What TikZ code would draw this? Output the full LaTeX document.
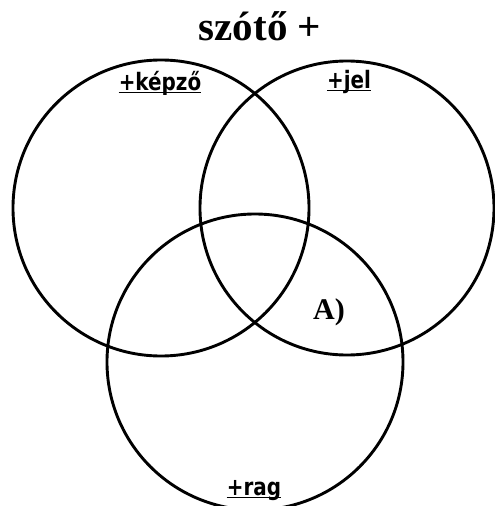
\documentclass[tikz,border=0pt]{standalone}
\usepackage{fontspec}
\setmainfont{Liberation Serif}
\newfontfamily\labelfont[FakeStretch=0.83]{DejaVu Sans}
\usepackage{tikz}
\usetikzlibrary{positioning,calc}
\tikzset{
  venn/.style={draw=black,circle,line width=2.9pt,inner sep=0pt},
  title/.style={font=\fontsize{41}{44}\selectfont\bfseries,inner sep=0pt},
  setlabel/.style={font=\labelfont\fontsize{24}{26}\selectfont\bfseries,inner sep=0pt},
  uline/.style={draw=black,line width=1.8pt},
  zonelabel/.style={font=\fontsize{30}{32}\selectfont\bfseries,inner sep=0pt}
}
\begin{document}
\begin{tikzpicture}[x=1pt,y=-1pt]
  \useasboundingbox (0,0) rectangle (495,506);
  \node[title,anchor=base] (head) at (260,40) {szótő +};
  \node[venn,minimum size=296pt] (kepzo) at (161,208) {};
  \node[venn,minimum size=294pt] (jel) at (347,208) {};
  \node[venn,minimum size=296pt] (rag) at (255,362) {};
  \node[setlabel,anchor=base] (lk) at (160,90) {+képző};
  \node[setlabel,anchor=base] (lj) at (349,88) {+jel};
  \node[setlabel,anchor=base] (lr) at (254,495) {+rag};
  \draw[uline] ([yshift=-2.5pt]lk.base west) -- ([yshift=-2.5pt]lk.base east);
  \draw[uline] ([yshift=-2.5pt]lj.base west) -- ([yshift=-2.5pt]lj.base east);
  \draw[uline] ([yshift=-2.5pt]lr.base west) -- ([yshift=-2.5pt]lr.base east);
  \node[zonelabel,anchor=base] (a) at (329,319) {A)};
\end{tikzpicture}
\end{document}
